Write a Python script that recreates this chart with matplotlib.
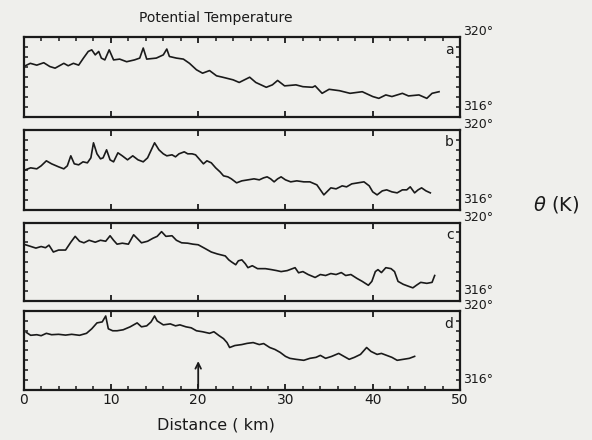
import matplotlib.pyplot as plt
import numpy as np

# distance (km) and potential temperature (K)
km_a = [0.0, 0.76, 1.5, 2.3, 3.0, 3.6, 4.6, 5.1, 5.7, 6.3, 6.85, 7.4, 7.8, 8.2, 8.6, 8.9,
        9.3, 9.8, 10.3, 11.0, 11.8, 12.7, 13.3, 13.7, 14.1, 15.2, 16.0, 16.4, 16.7, 17.5,
        18.3, 19.0, 19.8, 20.5, 21.3, 22.1, 22.8, 24.0, 24.7, 25.9, 26.6, 27.8, 28.5, 29.1,
        29.9, 31.2, 32.0, 33.1, 33.4, 34.2, 35.0, 36.2, 37.4, 38.8, 40.0, 40.7, 41.5, 42.2,
        43.4, 44.1, 45.3, 46.2, 46.8, 47.6]
th_a = [318.53, 318.69, 318.6, 318.72, 318.53, 318.45, 318.69, 318.57, 318.69, 318.6,
        318.95, 319.28, 319.36, 319.11, 319.28, 318.95, 318.86, 319.36, 318.86, 318.9,
        318.77, 318.86, 318.95, 319.45, 318.9, 318.95, 319.11, 319.4, 319.03, 318.95,
        318.9, 318.69, 318.37, 318.2, 318.33, 318.07, 318.0, 317.87, 317.74, 318.0,
        317.74, 317.5, 317.62, 317.84, 317.57, 317.62, 317.53, 317.5, 317.57, 317.2,
        317.4, 317.33, 317.2, 317.28, 317.04, 316.95, 317.12, 317.04, 317.2, 317.07,
        317.12, 316.95, 317.2, 317.28]

km_b = [0.2, 0.8, 1.5, 2.0, 2.6, 3.2, 4.0, 4.6, 5.0, 5.4, 5.8, 6.3, 6.8, 7.3, 7.7, 8.0,
        8.4, 8.8, 9.1, 9.5, 9.9, 10.3, 10.8, 11.3, 11.9, 12.5, 13.1, 13.7, 14.2, 15.0,
        15.5, 16.0, 16.4, 17.0, 17.4, 17.8, 18.4, 18.8, 19.3, 19.7, 20.1, 20.6, 21.0,
        21.5, 22.0, 22.5, 22.9, 23.4, 23.8, 24.4, 25.0, 25.7, 26.4, 27.0, 27.5, 27.9,
        28.3, 28.7, 29.1, 29.5, 30.0, 30.6, 31.3, 32.1, 32.8, 33.6, 34.0, 34.4, 35.2,
        35.8, 36.5, 37.0, 37.6, 38.3, 39.0, 39.6, 40.0, 40.5, 41.1, 41.6, 42.2, 42.8,
        43.4, 43.9, 44.3, 44.8, 45.2, 45.6, 46.1, 46.6]
th_b = [318.0, 318.1, 318.05, 318.2, 318.45, 318.3, 318.15, 318.05, 318.2, 318.7, 318.3,
        318.25, 318.4, 318.35, 318.6, 319.35, 318.8, 318.55, 318.6, 319.0, 318.5, 318.4,
        318.85, 318.7, 318.5, 318.7, 318.5, 318.4, 318.6, 319.35, 319.0, 318.8, 318.7,
        318.75, 318.65, 318.8, 318.9, 318.8, 318.8, 318.75, 318.55, 318.3, 318.45,
        318.35, 318.1, 317.9, 317.7, 317.65, 317.55, 317.35, 317.45, 317.5, 317.55,
        317.5, 317.6, 317.65, 317.55, 317.4, 317.55, 317.65, 317.5, 317.4, 317.45,
        317.4, 317.4, 317.25, 317.0, 316.75, 317.1, 317.05, 317.2, 317.15, 317.3,
        317.35, 317.4, 317.2, 316.9, 316.75, 316.95, 317.0, 316.9, 316.85, 317.0,
        317.0, 317.15, 316.85, 317.0, 317.1, 316.95, 316.85]

km_c = [0.2, 0.7, 1.4, 2.0, 2.5, 2.9, 3.4, 4.0, 4.8, 5.4, 5.9, 6.4, 6.9, 7.5, 8.2, 8.8,
        9.4, 9.9, 10.3, 10.7, 11.3, 12.0, 12.6, 13.0, 13.5, 14.2, 14.8, 15.3, 15.8, 16.3,
        17.0, 17.5, 18.1, 18.8, 19.4, 20.0, 20.7, 21.5, 22.2, 23.1, 23.5, 23.8, 24.3,
        24.6, 25.0, 25.4, 25.7, 26.2, 26.8, 27.7, 28.4, 29.0, 29.5, 30.2, 31.1, 31.5,
        32.0, 32.6, 33.4, 34.0, 34.6, 35.2, 35.8, 36.4, 36.9, 37.5, 38.2, 38.8, 39.5,
        39.9, 40.3, 40.6, 41.0, 41.5, 42.1, 42.5, 42.9, 43.5, 44.1, 44.6, 45.0, 45.5,
        46.2, 46.8, 47.1]
th_c = [318.87, 318.8, 318.7, 318.78, 318.72, 318.85, 318.5, 318.6, 318.6, 319.0, 319.3,
        319.05, 318.97, 319.1, 319.0, 319.1, 319.05, 319.33, 319.1, 318.9, 318.95,
        318.9, 319.38, 319.2, 318.97, 319.05, 319.2, 319.3, 319.54, 319.3, 319.33,
        319.1, 318.97, 318.95, 318.9, 318.87, 318.7, 318.5, 318.4, 318.3, 318.1, 318.0,
        317.85, 318.05, 318.1, 317.9, 317.7, 317.8, 317.65, 317.65, 317.6, 317.55,
        317.5, 317.55, 317.7, 317.44, 317.5, 317.35, 317.2, 317.35, 317.3, 317.4,
        317.35, 317.45, 317.3, 317.35, 317.15, 317.0, 316.8, 317.0, 317.5, 317.6,
        317.45, 317.7, 317.65, 317.5, 317.0, 316.85, 316.75, 316.67, 316.8, 316.95,
        316.9, 316.95, 317.3]

km_d = [0.3, 0.8, 1.5, 2.0, 2.6, 3.2, 4.0, 4.8, 5.5, 6.4, 7.2, 7.8, 8.4, 9.0, 9.4, 9.7,
        10.2, 10.7, 11.4, 12.2, 12.6, 13.0, 13.5, 14.1, 14.6, 15.0, 15.3, 16.0, 16.8,
        17.4, 17.9, 18.6, 19.2, 19.8, 20.5, 21.3, 21.8, 22.4, 22.9, 23.3, 23.6, 24.2,
        25.0, 25.6, 26.3, 27.0, 27.5, 28.2, 28.8, 29.4, 30.0, 30.5, 31.2, 32.1, 32.8,
        33.5, 34.0, 34.6, 35.3, 36.1, 36.7, 37.3, 37.9, 38.6, 39.3, 39.8, 40.5, 41.0,
        41.6, 42.2, 42.8, 43.5, 44.2, 44.8]
th_d = [318.92, 318.77, 318.8, 318.75, 318.87, 318.8, 318.82, 318.78, 318.82, 318.77,
        318.87, 319.1, 319.4, 319.45, 319.75, 319.1, 319.0, 319.0, 319.05, 319.2, 319.3,
        319.4, 319.2, 319.25, 319.45, 319.75, 319.5, 319.3, 319.35, 319.25, 319.3,
        319.2, 319.15, 319.0, 318.95, 318.87, 318.95, 318.75, 318.6, 318.4, 318.15,
        318.25, 318.3, 318.36, 318.4, 318.3, 318.35, 318.15, 318.05, 317.9, 317.7,
        317.6, 317.55, 317.5, 317.6, 317.65, 317.75, 317.6, 317.7, 317.85, 317.7,
        317.55, 317.65, 317.8, 318.15, 317.95, 317.8, 317.85, 317.75, 317.65, 317.5,
        317.55, 317.6, 317.7]

panel_names = ['a', 'b', 'c', 'd']
x_ticks = [0, 10, 20, 30, 40, 50]
arrow_km = 20

paper = '#efefec'
ink = '#1a1a1a'

fig = plt.figure(figsize=(5.92, 4.4), dpi=100, facecolor=paper)

# [left, bottom, width, height] of each panel in figure fraction
boxes = [
    [0.040, 0.733, 0.737, 0.183],
    [0.040, 0.523, 0.737, 0.182],
    [0.040, 0.316, 0.737, 0.178],
    [0.040, 0.114, 0.737, 0.179],
]
series = [(km_a, th_a), (km_b, th_b), (km_c, th_c), (km_d, th_d)]


def drawPanel(ax, km, th, name, top_minor=False, bottom_minor=False, show_labels=False):
    ax.set_facecolor(paper)
    ax.plot(km, th, color=ink, linewidth=1.2)
    ax.set_xlim(0, 50)
    ax.set_ylim(316, 320)

    for side in ax.spines.values():
        side.set_linewidth(1.6)
        side.set_color(ink)

    ax.set_xticks(x_ticks)
    ax.set_xticks(np.arange(0, 51, 2), minor=True)
    ax.set_yticks([])
    ax.set_yticks(np.arange(316.5, 320, 0.5), minor=True)

    ax.tick_params(axis='x', which='major', direction='in', top=True, bottom=True,
                   length=4, width=1.3, colors=ink, labelbottom=show_labels,
                   labelsize=10, pad=2)
    ax.tick_params(axis='x', which='minor', direction='in', top=top_minor,
                   bottom=bottom_minor, length=3, width=1.1, colors=ink)
    ax.tick_params(axis='y', which='minor', direction='in', left=True, right=True,
                   length=3, width=1.1, colors=ink)

    ax.text(0.985, 0.93, name, transform=ax.transAxes, ha='right', va='top',
            fontsize=10, color=ink)
    # limit labels sit just above their spine, as in the original
    ax.text(1.008, 0.985, '320°', transform=ax.transAxes, ha='left', va='bottom',
            fontsize=9, color=ink)
    ax.text(1.008, 0.05, '316°', transform=ax.transAxes, ha='left', va='bottom',
            fontsize=9, color=ink)


axes = []
for i, (box, (km, th), name) in enumerate(zip(boxes, series, panel_names)):
    ax = fig.add_axes(box)
    drawPanel(ax, km, th, name,
              top_minor=(i == 0),
              bottom_minor=(i == 3),
              show_labels=(i == 3))
    axes.append(ax)

# arrow marking 20 km in panel d
axes[3].annotate('', xy=(arrow_km, 317.6), xytext=(arrow_km, 316.0),
                 arrowprops=dict(arrowstyle='->', color=ink, lw=1.3))

fig.text(0.365, 0.958, 'Potential Temperature', ha='center', va='center',
         fontsize=10, color=ink)
fig.text(0.365, 0.035, 'Distance ( km)', ha='center', va='center',
         fontsize=11.5, color=ink)
fig.text(0.94, 0.535, r'$\theta$ (K)', ha='center', va='center',
         fontsize=14, color=ink)

fig.savefig('out.png', dpi=100, facecolor=paper)
